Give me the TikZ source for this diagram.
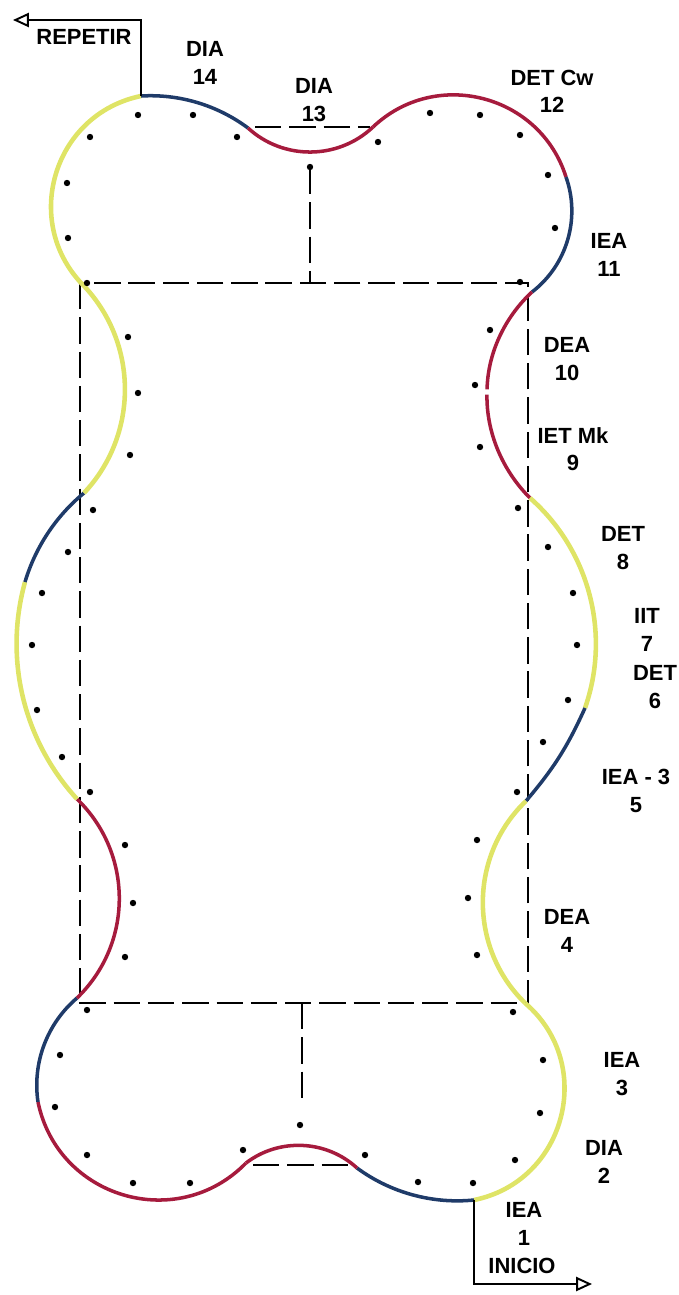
\documentclass[tikz,border=0pt]{standalone}
\usepackage{fontspec}
\setmainfont{Liberation Sans}
\usetikzlibrary{arrows.meta}

\definecolor{pathyellow}{HTML}{DFE466}
\definecolor{pathblue}{HTML}{1F3B69}
\definecolor{pathred}{HTML}{A61B3D}

\begin{document}
\begin{tikzpicture}[x=0.02cm, y=-0.02cm,
  yel/.style={pathyellow, line width=2.6pt},
  blu/.style={pathblue, line width=2pt},
  rd/.style={pathred, line width=2pt},
  guide/.style={black, line width=1.6pt, dash pattern=on 15pt off 4.5pt},
  lbl/.style={font=\bfseries\fontsize{12.5}{15.5}\selectfont, align=center, inner sep=0pt},
  flow/.style={black, line width=1.1pt, -{Triangle[open, length=9pt, width=8pt]}}]

\useasboundingbox (0,0) rectangle (679,1295);

% Junctions of the track
\coordinate (jA) at (141,96);
\coordinate (jB) at (248,128);
\coordinate (jC) at (373,127);
\coordinate (jD) at (566,177);
\coordinate (jE) at (532,292);
\coordinate (jE2) at (487,392);
\coordinate (jF) at (530,498);
\coordinate (jG) at (585,708);
\coordinate (jH) at (526,801);
\coordinate (jI) at (525,1003);
\coordinate (jJ) at (474,1200);
\coordinate (jK) at (357,1168);
\coordinate (jL) at (246,1163);
\coordinate (jM) at (38,1102);
\coordinate (jN) at (77,998);
\coordinate (jO) at (77,799);
\coordinate (jP) at (25,582);
\coordinate (jQ) at (84,493);
\coordinate (jR) at (85,287);

% Dashed guides
\draw[guide] (80,283) rectangle (528,1003);
\draw[guide] (310,168) -- (310,283);
\draw[guide] (255,127) -- (370,127);
\draw[guide] (302,1003) -- (302,1100);
\draw[guide] (253,1165) -- (350,1165);

% Top loop
\draw[yel] (jA) to[bend right=62, looseness=1.16] (jR);
\draw[blu] (jA) to[bend left=20, looseness=0.88] (jB);
\draw[rd] (jB) to[bend right=43, looseness=0.98] (jC);
\draw[rd] (jC) to[bend left=58, looseness=1.11] (jD);
\draw[blu] (jD) to[bend left=36, looseness=0.94] (jE);

% Right side
\draw[rd, shorten >=1.5pt] (jE) to[bend right=23, looseness=0.89] (jE2);
\draw[rd, shorten <=1.5pt] (jE2) to[bend right=23, looseness=0.89] (jF);
\draw[yel] (jF) to[bend left=34, looseness=0.93] (jG);
\draw[blu] (jG) to[bend left=8] (jH);
\draw[yel] (jH) to[bend right=46, looseness=1.0] (jI);
\draw[yel] (jI) to[bend left=64, looseness=1.18] (jJ);

% Bottom loop
\draw[blu] (jJ) to[bend left=21, looseness=0.88] (jK);
\draw[rd] (jK) to[bend right=40, looseness=0.96] (jL);
\draw[rd] (jL) to[bend left=62, looseness=1.16] (jM);
\draw[blu] (jM) to[bend left=29, looseness=0.91] (jN);

% Left side
\draw[rd] (jN) to[bend right=46, looseness=1.01] (jO);
\draw[yel] (jO) to[bend left=29, looseness=0.91] (jP);
\draw[blu] (jP) to[bend left=17, looseness=0.87] (jQ);
\draw[yel] (jQ) to[bend right=43, looseness=0.98] (jR);

% Beat marks
\foreach \p in {(138,115),(90,137),(67,183),(68,238),(87,283),(193,115),(237,137),(310,167),
  (378,142),(430,113),(480,115),(520,135),(548,175),(555,228),(520,282),
  (490,330),(475,385),(480,447),(518,508),(548,547),(573,593),(577,645),(568,700),
  (543,742),(517,792),(477,840),(468,898),(477,955),
  (513,1012),(543,1060),(540,1113),(515,1160),(473,1183),(418,1182),(365,1155),
  (300,1125),(243,1150),(190,1183),(133,1183),(87,1155),(55,1107),(60,1055),(87,1010),
  (125,957),(133,903),(125,845),(90,792),(62,757),(37,710),(32,645),
  (42,593),(68,552),(93,510),(130,455),(138,393),(128,337)}
  \fill \p circle (3.2);

% Start and repeat
\coordinate (repc) at (141,20);
\coordinate (repe) at (13,20);
\draw[flow] (jA) -- (repc) -- (repe);
\coordinate (inic) at (474,1284);
\coordinate (inie) at (592,1284);
\draw[flow] (jJ) -- (inic) -- (inie);

% Labels
\node[lbl, font=\bfseries\fontsize{12.5}{15}\selectfont] (repetir) at (84,37) {REPETIR};
\node[lbl] (inicio) at (522,1266) {INICIO};
\node[lbl] (dia14) at (205,63) {DIA\\14};
\node[lbl] (dia13) at (314,100) {DIA\\13};
\node[lbl] (det12) at (552,91) {DET Cw\\12};
\node[lbl] (iea11) at (609,255) {IEA\\11};
\node[lbl] (dea10) at (567,359) {DEA\\10};
\node[lbl] (iet9) at (573,449) {IET Mk\\9};
\node[lbl] (det8) at (623,548) {DET\\8};
\node[lbl] (iit7) at (647,630) {IIT\\7};
\node[lbl] (det6) at (655,687) {DET\\6};
\node[lbl] (iea5) at (636,791) {IEA - 3\\5};
\node[lbl] (dea4) at (567,931) {DEA\\4};
\node[lbl] (iea3) at (622,1074) {IEA\\3};
\node[lbl] (dia2) at (604,1162) {DIA\\2};
\node[lbl] (iea1) at (524,1224) {IEA\\1};

\end{tikzpicture}
\end{document}
